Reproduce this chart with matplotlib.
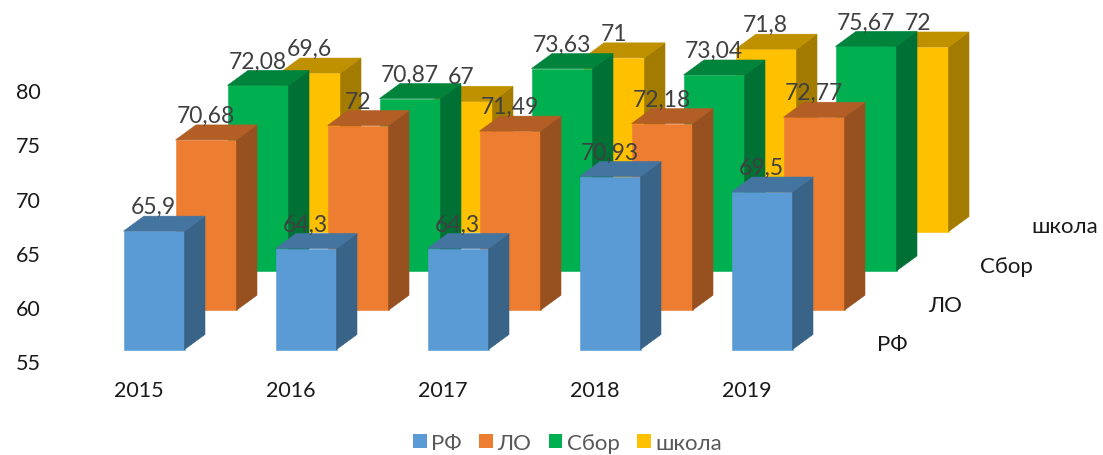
import matplotlib
matplotlib.use('Agg')
import matplotlib.pyplot as plt
from matplotlib.patches import Polygon, Rectangle, Patch

plt.rcParams['font.family'] = ['Lato', 'Noto Sans', 'DejaVu Sans']

years = ['2015', '2016', '2017', '2018', '2019']
series = ['школа', 'Сбор', 'ЛО', 'РФ']
school = [69.6, 67, 71, 71.8, 72]
sbor = [72.08, 70.87, 73.63, 73.04, 75.67]
lo = [70.68, 72, 71.49, 72.18, 72.77]
rf = [65.9, 64.3, 64.3, 70.93, 69.5]
values = [school, sbor, lo, rf]
yticks = [55, 60, 65, 70, 75, 80]

front = ['#FFC000', '#00B050', '#ED7D31', '#5B9BD5']
top = ['#BF9000', '#00843C', '#B25E25', '#4474A0']
side = ['#A37B00', '#007034', '#97501F', '#3A6487']

# fake 3d: every row is moved by a fixed offset, one unit of x is one pixel
ppu = 10.86
base = 55
bar_w = 61
step = 152
x0 = 123.5
dx_row, dy_row = 52, 39.3
dx, dy = 20.5, 15 / ppu

fig = plt.figure(figsize=(11.03, 4.56), dpi=100)
ax = fig.add_axes([0, 0, 1, 1])
ax.set_xlim(0, 1103)
ax.set_ylim(base - 105.5 / ppu, base + 350.5 / ppu)
ax.axis('off')

labels = []
for r in range(4):
    row = 3 - r
    off_x = row * dx_row
    off_y = row * dy_row / ppu
    for i, v in enumerate(values[r]):
        x = x0 + i * step + off_x
        y1 = base + off_y
        y2 = v + off_y
        z = r + 1 + i * 0.01
        ax.add_patch(Rectangle((x, y1), bar_w, y2 - y1, fc=front[r], ec=front[r], lw=0.4, zorder=z))
        ax.add_patch(Polygon([(x + bar_w, y1), (x + bar_w + dx, y1 + dy), (x + bar_w + dx, y2 + dy), (x + bar_w, y2)],
                             fc=side[r], ec=side[r], lw=0.4, zorder=z))
        ax.add_patch(Polygon([(x, y2), (x + dx, y2 + dy), (x + bar_w + dx, y2 + dy), (x + bar_w, y2)],
                             fc=top[r], ec=top[r], lw=0.4, zorder=z))
        labels.append((x + 30, y2 + 24.5 / ppu, str(v).replace('.', ',')))

for x, y, s in labels:
    ax.text(x, y, s, ha='center', va='center', fontsize=16.5, color='#404040', zorder=10)

for t in yticks:
    ax.text(16, t - 14 / ppu, str(t), ha='left', va='center', fontsize=15.5, color='#1a1a1a')

for i, yr in enumerate(years):
    ax.text(139 + i * step, base - 41 / ppu, yr, ha='center', va='center', fontsize=15.5, color='#1a1a1a')

for r, name in enumerate(series):
    row = 3 - r
    ax.text(877 + row * 51.5, base + (5.5 + row * 39.2) / ppu, name, ha='left', va='center', fontsize=16, color='#1a1a1a')

handles = [Patch(fc=front[r], ec='none', label=series[r]) for r in [3, 2, 1, 0]]
ax.legend(handles=handles, loc='center', bbox_to_anchor=(0.5145, 0.027), ncol=4, frameon=False,
          fontsize=16, labelcolor='#595959', handlelength=0.6, handleheight=0.6,
          handletextpad=0.2, columnspacing=0.8)

fig.savefig('out.png', dpi=100)
